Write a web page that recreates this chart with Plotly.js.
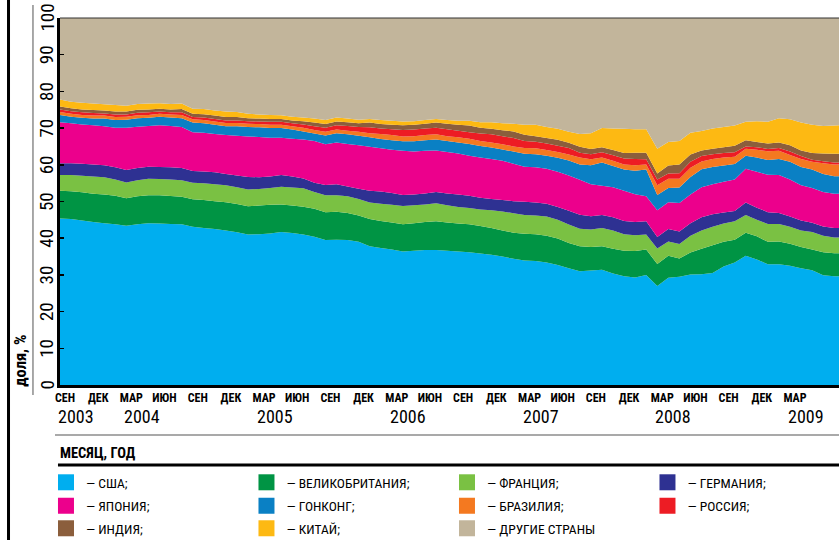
<!DOCTYPE html>
<html><head><meta charset="utf-8">
<script src="https://cdn.plot.ly/plotly-3.0.1.min.js"></script>
<style>html,body{margin:0;padding:0;background:#fff;}#chart{width:839px;height:540px;}</style>
</head><body><div id="chart"></div>
<script>
// Categories / labels
const countries = ['США','ВЕЛИКОБРИТАНИЯ','ФРАНЦИЯ','ГЕРМАНИЯ','ЯПОНИЯ','ГОНКОНГ','БРАЗИЛИЯ','РОССИЯ','ИНДИЯ','КИТАЙ','ДРУГИЕ СТРАНЫ'];
const legendLabels = ['— США;','— ВЕЛИКОБРИТАНИЯ;','— ФРАНЦИЯ;','— ГЕРМАНИЯ;','— ЯПОНИЯ;','— ГОНКОНГ;','— БРАЗИЛИЯ;','— РОССИЯ;','— ИНДИЯ;','— КИТАЙ;','— ДРУГИЕ СТРАНЫ'];
const colors = ['#00AEEF','#009444','#7AC143','#2E3192','#EC008C','#0A80C4','#F47920','#ED1C24','#8B5E3C','#FDB913','#C2B59B'];
const tickLabels = ['СЕН','ДЕК','МАР','ИЮН','СЕН','ДЕК','МАР','ИЮН','СЕН','ДЕК','МАР','ИЮН','СЕН','ДЕК','МАР','ИЮН','СЕН','ДЕК','МАР','ИЮН','СЕН','ДЕК','МАР'];
const yearLabels = ['2003','2004','2005','2006','2007','2008','2009'];
const yearTickIndex = [0,2,6,10,14,18,22];
const yTicks = [0,10,20,30,40,50,60,70,80,90,100];

// Monthly shares, % (from Sep 2003)
const usa = [45.4,45.2,44.8,44.4,44.1,43.8,43.4,43.8,44.1,44.0,43.9,43.8,43.1,42.8,42.5,42.1,41.6,41.0,41.1,41.3,41.7,41.4,41.0,40.4,39.5,39.6,39.5,39.0,37.8,37.3,36.9,36.4,36.6,36.8,36.8,36.6,36.4,36.2,35.8,35.5,35.0,34.4,33.9,33.8,33.4,32.7,31.8,31.0,31.2,31.4,30.4,29.6,29.3,30.0,27.0,29.2,29.5,30.1,30.2,30.5,32.3,33.4,35.2,34.2,32.9,32.9,32.5,31.8,31.3,29.9,29.6,29.6];
const uk = [7.5,7.6,7.7,7.7,7.8,7.8,7.5,7.6,7.6,7.7,7.6,7.5,7.5,7.6,7.6,7.7,7.7,7.7,7.8,7.8,7.5,7.5,7.6,7.6,7.6,7.6,7.4,7.2,7.4,7.4,7.4,7.4,7.5,7.6,7.8,7.7,7.6,7.6,7.5,7.3,7.1,7.1,7.3,7.3,7.3,7.2,6.9,6.8,6.4,6.4,6.7,7.0,7.2,6.9,6.0,6.0,5.0,6.0,6.9,7.6,6.7,6.2,6.3,6.3,6.1,6.2,6.0,5.8,5.6,6.3,6.3,6.3];
const france = [4.3,4.4,4.5,4.7,4.7,4.4,4.3,4.4,4.5,4.4,4.5,4.5,4.5,4.6,4.6,4.6,4.6,4.6,4.5,4.6,4.8,4.9,5.0,4.6,4.6,4.5,4.5,4.5,4.5,4.7,4.8,5.0,4.9,4.8,4.9,4.7,4.5,4.4,4.5,4.8,5.2,5.3,5.1,5.1,5.2,5.1,5.0,4.8,4.8,5.0,5.0,4.5,4.3,4.1,4.2,3.9,3.9,4.6,5.0,5.0,5.0,5.0,4.8,4.5,4.9,4.8,4.6,4.5,4.8,4.5,4.3,4.3];
const germany = [3.2,3.2,3.3,3.3,3.3,3.3,3.4,3.3,3.3,3.3,3.3,3.3,3.2,3.2,3.3,3.1,3.2,3.4,3.2,3.1,3.2,3.0,2.7,2.5,2.8,3.0,2.7,2.8,3.2,3.3,3.2,3.0,2.9,3.0,3.1,3.2,3.4,3.4,3.2,3.1,3.1,3.3,3.6,3.5,3.5,3.5,3.8,3.8,3.6,3.5,3.6,3.6,3.6,3.6,3.1,3.4,3.4,3.4,3.6,3.4,3.0,2.8,3.4,3.3,3.2,3.0,2.8,2.7,2.5,2.5,2.6,2.6];
const japan = [11.2,10.9,10.7,10.7,10.6,10.8,11.5,11.3,11.1,11.4,11.3,11.2,10.6,10.5,10.4,10.6,10.8,11.0,11.0,10.6,10.2,10.3,10.6,11.4,11.1,11.4,11.6,11.8,12.0,11.8,11.8,12.0,11.7,11.6,11.3,11.3,11.2,10.9,11.0,10.9,10.7,10.2,9.6,9.6,9.5,9.6,9.6,9.5,8.7,8.0,8.2,8.2,7.6,6.8,7.3,7.3,7.8,7.8,8.2,8.2,8.4,8.6,9.2,9.8,10.2,10.3,10.1,9.6,9.5,9.4,9.3,9.3];
const hongkong = [2.0,1.8,1.8,1.8,2.1,2.1,2.2,2.3,2.2,2.3,2.3,2.4,2.6,2.6,2.5,2.4,2.6,2.6,2.6,2.6,2.6,2.5,2.2,2.0,2.4,2.5,2.6,2.6,2.6,2.5,2.6,2.6,2.8,2.9,3.0,3.0,3.0,3.2,3.1,3.1,3.1,3.3,3.5,3.6,3.6,3.8,4.1,4.2,5.2,6.3,5.8,5.8,6.4,7.3,4.2,3.9,4.2,4.8,4.9,4.7,4.4,4.2,3.6,3.9,4.0,4.4,4.8,5.0,5.0,4.9,4.8,4.8];
const brazil = [0.8,0.8,0.8,0.8,0.8,0.8,0.8,0.8,0.8,0.8,0.8,0.9,0.9,0.9,0.9,0.9,0.9,0.9,0.9,0.9,0.9,0.9,1.0,1.0,1.0,1.0,1.0,1.1,1.1,1.4,1.4,1.3,1.4,1.4,1.4,1.3,1.4,1.4,1.4,1.4,1.4,1.4,1.6,1.6,1.5,1.6,1.6,1.9,1.6,1.4,1.4,1.4,1.5,1.4,2.6,2.5,2.4,2.5,2.1,2.2,2.2,2.0,1.9,2.1,2.4,2.2,1.9,2.2,2.1,2.9,3.2,3.2];
const russia = [0.7,0.7,0.7,0.7,0.6,0.7,0.6,0.7,0.7,0.6,0.6,0.7,0.6,0.7,0.7,0.7,0.7,0.7,0.7,0.8,0.8,0.8,0.9,1.0,1.1,1.2,1.3,1.3,1.6,1.5,1.6,1.8,1.8,1.8,1.8,1.9,1.8,1.8,2.0,2.2,2.2,2.3,1.9,1.8,1.8,1.7,1.8,1.3,1.4,1.4,1.5,1.6,1.7,1.4,1.6,1.4,1.5,1.6,1.5,1.3,1.2,1.2,0.6,0.7,0.6,0.8,0.9,0.8,0.6,0.6,0.5,0.5];
const india = [0.8,0.8,0.8,0.8,0.8,0.8,0.8,0.8,0.8,0.8,0.8,0.9,0.9,0.9,0.9,0.9,0.9,0.8,0.8,0.8,0.8,0.8,0.9,1.0,1.0,1.0,1.0,1.0,1.3,1.2,1.2,1.3,1.3,1.3,1.4,1.5,1.6,1.8,1.6,1.5,1.6,1.8,1.7,1.5,1.5,1.6,1.4,1.6,1.4,1.4,1.4,1.5,1.7,1.8,1.6,2.2,2.4,2.0,1.5,1.5,1.6,1.8,1.7,1.4,1.5,1.5,1.7,1.5,1.8,2.1,2.4,2.4];
const china = [1.9,1.8,1.8,1.8,1.7,1.8,1.6,1.6,1.6,1.5,1.5,1.5,1.4,1.4,1.4,1.5,1.4,1.2,1.1,1.1,1.0,1.0,1.0,1.1,1.1,1.1,1.0,1.0,1.0,1.1,1.1,1.0,1.0,1.0,1.0,1.0,1.1,1.3,1.5,1.8,1.9,2.1,2.7,3.1,3.0,3.0,3.0,3.5,4.3,5.2,5.9,6.6,6.4,6.4,6.8,6.4,6.4,5.9,5.3,5.5,5.5,5.5,5.0,5.7,5.9,6.6,7.1,7.6,7.7,7.5,7.7,7.8];
const others = [22.2,22.8,23.1,23.3,23.5,23.7,23.9,23.4,23.3,23.2,23.4,23.3,24.7,24.8,25.2,25.5,25.6,26.1,26.3,26.4,26.5,26.9,27.1,27.4,27.8,27.1,27.4,27.7,27.5,27.8,28.0,28.2,28.1,27.8,27.5,27.8,28.0,28.0,28.4,28.4,28.7,28.8,29.1,29.1,29.7,30.2,31.0,31.6,31.4,30.0,30.1,30.2,30.3,30.3,35.6,33.8,33.5,31.3,30.8,30.1,29.7,29.3,28.3,28.1,28.3,27.3,27.6,28.5,29.1,29.4,29.3,29.2];

const series = [usa, uk, france, germany, japan, hongkong, brazil, russia, india, china, others];
const monthIndex = usa.map((v, i) => i);

const FN = '"Roboto Condensed", "Liberation Sans Narrow", Roboto, "Liberation Sans", sans-serif';

const traces = [];
series.forEach((vals, i) => {
  traces.push({
    type: 'scatter', x: monthIndex, y: vals, name: countries[i],
    stackgroup: 'one', mode: 'none', fillcolor: colors[i],
    line: {width: 0, shape: 'linear'}, showlegend: false, hoverinfo: 'skip'
  });
});
const legendIds = ['legend','legend','legend','legend','legend2','legend2','legend2','legend2','legend3','legend3','legend3'];
series.forEach((vals, i) => {
  const t = {
    type: 'scatter', x: [null], y: [null], name: legendLabels[i], mode: 'markers',
    marker: {symbol: 'square', size: 16, color: colors[i], line: {width: 0}},
    legend: legendIds[i], showlegend: true, hoverinfo: 'skip'
  };
  if (i === 3 || i === 7) t.legendwidth = 110;
  traces.push(t);
});

const tickvals = tickLabels.map((t, k) => 3 * k + 0.45);

const annotations = yearLabels.map((yr, j) => ({
  x: tickvals[yearTickIndex[j]], xref: 'x', xanchor: 'left', xshift: -9,
  y: -0.0845, yref: 'paper', yanchor: 'middle',
  text: yr, showarrow: false, font: {family: FN, size: 18, color: '#000'}
}));
// y-axis tick labels, rotated like the reference
yTicks.forEach(v => annotations.push({
  x: -0.0173, xref: 'paper', xanchor: 'center', y: v, yref: 'y', yanchor: 'middle',
  text: String(v), textangle: -90, showarrow: false, font: {family: FN, size: 19, color: '#000'}
}));
annotations.push({
  x: -0.0026, xref: 'paper', xanchor: 'left', y: -0.1866, yref: 'paper', yanchor: 'middle',
  text: 'МЕСЯЦ, ГОД', showarrow: false, font: {family: FN, size: 14.5, color: '#000', weight: 'bold'}
});
annotations.push({
  x: -0.05, xref: 'paper', xanchor: 'center', y: -0.01, yref: 'paper', yanchor: 'bottom',
  text: 'доля, %', textangle: -90, showarrow: false, font: {family: FN, size: 16.5, color: '#000', weight: 'bold'}
});

const shapes = [
  {type: 'line', xref: 'paper', yref: 'paper', x0: -0.0661, x1: -0.0661, y0: 1.05, y1: -0.43, line: {color: '#000', width: 3}},
  {type: 'line', xref: 'paper', yref: 'paper', x0: -0.0347, x1: -0.0347, y0: 1.0354, y1: -0.027, line: {color: '#8c8c8c', width: 1.5}},
  {type: 'line', xref: 'paper', yref: 'paper', x0: -0.0064, x1: 1, y0: -0.1362, y1: -0.1362, line: {color: '#8c8c8c', width: 1.5}},
  {type: 'line', xref: 'paper', yref: 'paper', x0: -0.0026, x1: 1, y0: -0.218, y1: -0.218, line: {color: '#000', width: 3}},
  {type: 'line', xref: 'paper', yref: 'paper', x0: 0, x1: 1, y0: 1, y1: 1, line: {color: '#333', width: 1}}
];

const legBase = {
  orientation: 'h', xanchor: 'left', yanchor: 'middle', x: -0.0180,
  entrywidth: 155.5, entrywidthmode: 'pixels', bgcolor: 'rgba(0,0,0,0)', borderwidth: 0,
  font: {family: FN, size: 13.5, color: '#000'}, itemclick: false, itemdoubleclick: false, traceorder: 'normal'
};

const layout = {
  width: 839, height: 540,
  margin: {l: 60, r: 0, t: 18, b: 155, pad: 0, autoexpand: false},
  paper_bgcolor: '#fff', plot_bgcolor: '#fff',
  showlegend: true,
  xaxis: {
    range: [0, 70.43], showgrid: false, zeroline: false, showline: true, linewidth: 3, linecolor: '#000',
    ticks: '', tickvals: tickvals, ticktext: tickLabels, tickangle: 0,
    tickfont: {family: FN, size: 12, color: '#000', weight: 'bold'}, fixedrange: true
  },
  yaxis: {
    range: [0, 100], tickvals: yTicks, showticklabels: false, showgrid: false, zeroline: false,
    showline: true, linewidth: 3, linecolor: '#000',
    ticks: 'inside', ticklen: 4, tickwidth: 1.5, tickcolor: '#000', fixedrange: true
  },
  legend: Object.assign({}, legBase, {y: -0.2657}),
  legend2: Object.assign({}, legBase, {y: -0.3297}),
  legend3: Object.assign({}, legBase, {y: -0.3910}),
  annotations: annotations,
  shapes: shapes
};

Plotly.newPlot('chart', traces, layout, {displayModeBar: false, staticPlot: true});
</script>
</body></html>
